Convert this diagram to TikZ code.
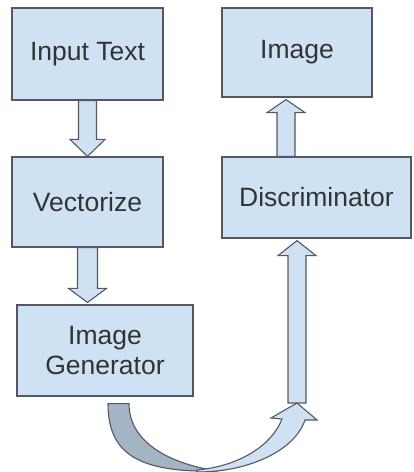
\documentclass[tikz,border=0pt]{standalone}
\usepackage{fontspec}
\setmainfont{Liberation Sans}
\usetikzlibrary{calc}
\definecolor{boxfill}{HTML}{CFE2F3}
\definecolor{boxline}{HTML}{55595F}
\definecolor{txt}{HTML}{333333}
\definecolor{darkband}{HTML}{A3B4C5}
\begin{document}
\begin{tikzpicture}[x=1pt,y=-1pt,
  box/.style={draw=boxline, fill=boxfill, line width=1.2pt, inner sep=0pt,
    text=txt, align=center, font=\fontsize{26.5}{30}\selectfont},
  barrow/.style={draw=boxline, fill=boxfill, line width=1.1pt, line join=miter},
  darrow/.style={draw=boxline, fill=darkband, line width=1.1pt}]
\useasboundingbox (0,0) rectangle (414,472);
\node[box, minimum width=151pt, minimum height=92pt] (in)  at (87.5,54)   {Input Text};
\node[box, minimum width=150pt, minimum height=89pt] (img) at (297,52.5)  {Image};
\node[box, minimum width=151pt, minimum height=90pt] (vec) at (87.5,202)  {Vectorize};
\node[box, minimum width=189pt, minimum height=81pt] (dis) at (316.5,197.5) {Discriminator};
\node[box, minimum width=176pt, minimum height=91pt] (gen) at (105,350.5) {Image\\Generator};
\coordinate (cs) at ($(gen.south)+(13.5,7)$);
\coordinate (ch) at (297,403);
% Input Text -> Vectorize
\draw[barrow] let \p1=(in.south), \p2=(vec.north) in
  (\x1-9pt,\y1) -- (\x1+9pt,\y1) -- (\x1+9pt,\y2+17pt) -- (\x1+17.5pt,\y2+17pt)
  -- (\x1,\y2) -- (\x1-17.5pt,\y2+17pt) -- (\x1-9pt,\y2+17pt) -- cycle;
% Vectorize -> Image Generator
\draw[barrow] let \p1=(vec.south), \p2=(gen.north) in
  (\x1-10pt,\y1) -- (\x1+10pt,\y1) -- (\x1+10pt,\y2+16pt) -- (\x1+19pt,\y2+16pt)
  -- (\x1,\y2+2pt) -- (\x1-19pt,\y2+16pt) -- (\x1-10pt,\y2+16pt) -- cycle;
% Discriminator -> Image
\draw[barrow] let \p1=($(img.south)+(-11,0)$), \p2=(dis.north) in
  (\x1-9pt,\y2) -- (\x1+9pt,\y2) -- (\x1+9pt,\y1-15pt) -- (\x1+19pt,\y1-15pt)
  -- (\x1,\y1-2pt) -- (\x1-19pt,\y1-15pt) -- (\x1-9pt,\y1-15pt) -- cycle;
% curved connector -> Discriminator
\draw[barrow] let \p1=(ch), \p2=(dis.south) in
  (\x1-9pt,\y1) -- (\x1+9pt,\y1) -- (\x1+9pt,\y2-17pt) -- (\x1+19pt,\y2-17pt)
  -- (\x1,\y2-2pt) -- (\x1-19pt,\y2-17pt) -- (\x1-9pt,\y2-17pt) -- cycle;
% curved arrow, dark part
\draw[darrow] ($(cs)+(-10.5,0)$) -- ($(cs)+(10.5,0)$)
  .. controls ($(cs)+(10.5,35)$) and ($(cs)+(44,59)$) .. ($(cs)+(99.5,67.5)$)
  .. controls ($(cs)+(22,69)$) and ($(cs)+(-10.5,52)$) .. cycle;
% curved arrow, light part with head
\draw[barrow] ($(ch)+(-100,69)$)
  .. controls ($(ch)+(-47,69)$) and ($(ch)+(-2,47)$) .. ($(ch)+(8,17)$)
  -- ($(ch)+(20,17)$) -- (ch) -- ($(ch)+(-26,15)$) -- ($(ch)+(-15,16)$)
  .. controls ($(ch)+(-25,42)$) and ($(ch)+(-57,63)$) .. ($(ch)+(-100,67)$) -- cycle;
\end{tikzpicture}
\end{document}
